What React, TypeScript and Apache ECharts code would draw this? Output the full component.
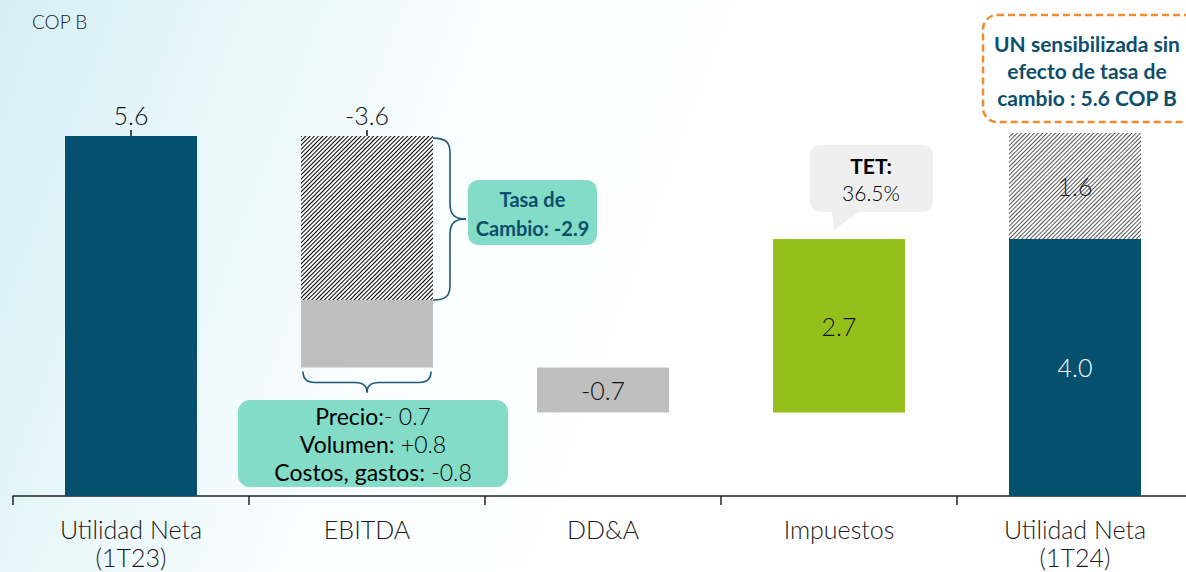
import React, { useEffect, useRef } from 'react';
import * as echarts from 'echarts';

const categories = ['Utilidad Neta\n(1T23)', 'EBITDA', 'DD&A', 'Impuestos', 'Utilidad Neta\n(1T24)'];
const startValue = 5.6;
const ebitdaDelta = -3.6;
const ddaDelta = -0.7;
const taxDelta = 2.7;
const endValue = 4.0;
// EBITDA split as drawn (hatched = exchange-rate effect, gray = operations)
const ebitdaFxDrawn = 2.55;
const ebitdaOpsDrawn = 1.05;
// sensitized top segment on the final bar
const endSensDrawn = 1.65;
const endSensLabel = '1.6';
const fxLabel = 'Cambio: -2.9';
const opsLines = [
  ['Precio:', '- 0.7'],
  ['Volumen:', ' +0.8'],
  ['Costos, gastos:', ' -0.8'],
];
const tetValue = '36.5%';
const noteLines = ['UN sensibilizada sin', 'efecto de tasa de', 'cambio : 5.6 COP B'];

const TEAL = '#06506f';
const GRAY = '#bfbfbf';
const GREEN = '#93c01b';
const MINT = '#82dcc7';
const NAVY = '#1f1a5e';
const DARK = '#0d4f6b';
const FONT = 'Lato, "Noto Sans", sans-serif';

const fmt = (v: number) => (v < 0 ? '-' : '') + Math.abs(v).toFixed(1);

export default function App() {
  const ref = useRef<HTMLDivElement>(null);
  useEffect(() => {
    document.body.style.margin = '0';
    const chart = echarts.init(ref.current!, null, { renderer: 'svg' });
    const ebitdaBase = startValue + ebitdaDelta;
    const ddaBase = ebitdaBase + ddaDelta;
    const taxBase = ddaBase;
    const baseData = [0, ebitdaBase, ddaBase, taxBase, 0];
    const valueFont = { fontSize: 25, fontFamily: FONT, fontWeight: 300 as any };
    const insideLabel = (color: string) => ({
      show: true,
      position: 'inside',
      ...valueFont,
      color,
    });
    const mainData: any[] = [
      {
        value: startValue,
        itemStyle: { color: TEAL },
        label: { show: true, position: 'top', distance: 9, ...valueFont, color: '#111', formatter: fmt(startValue) },
      },
      { value: ebitdaOpsDrawn, itemStyle: { color: GRAY } },
      { value: -ddaDelta, itemStyle: { color: GRAY }, label: { ...insideLabel('#111'), formatter: fmt(ddaDelta) } },
      { value: taxDelta, itemStyle: { color: GREEN }, label: { ...insideLabel('#111'), formatter: fmt(taxDelta) } },
      { value: endValue, itemStyle: { color: TEAL }, label: { ...insideLabel('#fff'), formatter: fmt(endValue) } },
    ];
    const hatchData: any[] = [
      '-',
      {
        value: ebitdaFxDrawn,
        itemStyle: {
          color: '#fff',
          decal: { symbol: 'rect', symbolSize: 1, dashArrayX: [[1, 0]], dashArrayY: [1, 2], rotation: -Math.PI / 4, color: '#000' },
        },
        label: { show: true, position: 'top', distance: 9, ...valueFont, color: '#111', formatter: fmt(ebitdaDelta) },
      },
      '-',
      '-',
      {
        value: endSensDrawn,
        itemStyle: {
          color: '#fff',
          decal: { symbol: 'rect', symbolSize: 1, dashArrayX: [[1, 0]], dashArrayY: [1, 2], rotation: -Math.PI / 4, color: '#555' },
        },
        label: { ...insideLabel('#222'), formatter: endSensLabel },
      },
    ];
    chart.setOption({
      animation: false,
      grid: { left: 13, top: 14, width: 1180, height: 482, containLabel: false },
      xAxis: {
        type: 'category',
        data: categories,
        axisLine: { lineStyle: { color: '#222', width: 1.5 } },
        axisTick: { show: true, length: 9, lineStyle: { color: '#222', width: 1.5 } },
        axisLabel: { fontSize: 25, lineHeight: 28, color: '#1a1a1a', fontFamily: FONT, fontWeight: 300, margin: 19 },
      },
      yAxis: { type: 'value', min: 0, max: 7.5, show: false, splitLine: { show: false } },
      series: [
        { type: 'bar', stack: 'w', data: baseData, barWidth: 132, itemStyle: { color: 'transparent' }, silent: true },
        { type: 'bar', stack: 'w', data: mainData, barWidth: 132 },
        { type: 'bar', stack: 'w', data: hatchData, barWidth: 132 },
      ],
    });

    const px = (x: number, y: number) => chart.convertToPixel({ xAxisIndex: 0, yAxisIndex: 0 }, [x, y]) as number[];
    const p0 = px(0, startValue);
    const p1 = px(1, startValue);
    const half = 66;
    const ebRight = p1[0] + half;
    const fxBottom = px(1, ebitdaBase + ebitdaOpsDrawn)[1];
    const opsBottom = px(1, ebitdaBase)[1];
    const taxTop = px(3, taxBase + taxDelta);
    const braceColor = '#1b5a78';
    const bs = { stroke: braceColor, lineWidth: 1.6, fill: null };

    // vertical brace
    const yT = p1[1] + 2, yB = fxBottom, yM = (yT + yB) / 2;
    const xs = ebRight + 17, xt = ebRight + 33;
    const vBrace = [
      { type: 'bezierCurve', shape: { x1: ebRight, y1: yT, cpx1: ebRight + 14, cpy1: yT, cpx2: xs, cpy2: yT + 5, x2: xs, y2: yT + 15 }, style: bs },
      { type: 'line', shape: { x1: xs, y1: yT + 15, x2: xs, y2: yM - 15 }, style: bs },
      { type: 'bezierCurve', shape: { x1: xs, y1: yM - 15, cpx1: xs, cpy1: yM - 4, cpx2: xs + 5, cpy2: yM, x2: xt, y2: yM }, style: bs },
      { type: 'bezierCurve', shape: { x1: xt, y1: yM, cpx1: xs + 5, cpy1: yM, cpx2: xs, cpy2: yM + 4, x2: xs, y2: yM + 15 }, style: bs },
      { type: 'line', shape: { x1: xs, y1: yM + 15, x2: xs, y2: yB - 15 }, style: bs },
      { type: 'bezierCurve', shape: { x1: xs, y1: yB - 15, cpx1: xs, cpy1: yB - 5, cpx2: ebRight + 14, cpy2: yB, x2: ebRight, y2: yB }, style: bs },
    ];
    // horizontal brace under EBITDA
    const xL = p1[0] - half + 2, xR = p1[0] + half - 2, xM = (xL + xR) / 2;
    const hy0 = opsBottom + 4, hys = hy0 + 11, hyt = hy0 + 21;
    const hBrace = [
      { type: 'bezierCurve', shape: { x1: xL, y1: hy0, cpx1: xL, cpy1: hy0 + 8, cpx2: xL + 4, cpy2: hys, x2: xL + 12, y2: hys }, style: bs },
      { type: 'line', shape: { x1: xL + 12, y1: hys, x2: xM - 12, y2: hys }, style: bs },
      { type: 'bezierCurve', shape: { x1: xM - 12, y1: hys, cpx1: xM - 4, cpy1: hys, cpx2: xM, cpy2: hys + 3, x2: xM, y2: hyt }, style: bs },
      { type: 'bezierCurve', shape: { x1: xM, y1: hyt, cpx1: xM, cpy1: hys + 3, cpx2: xM + 4, cpy2: hys, x2: xM + 12, y2: hys }, style: bs },
      { type: 'line', shape: { x1: xM + 12, y1: hys, x2: xR - 12, y2: hys }, style: bs },
      { type: 'bezierCurve', shape: { x1: xR - 12, y1: hys, cpx1: xR - 4, cpy1: hys, cpx2: xR, cpy2: hys - 3, x2: xR, y2: hy0 }, style: bs },
    ];

    const opsText = opsLines.map((l, i) => ({
      type: 'text',
      x: 373,
      y: 416 + i * 28,
      style: {
        text: `{a|${l[0]}}{b|${l[1]}}`,
        align: 'center',
        verticalAlign: 'middle',
        rich: {
          a: { fontSize: 23, fontFamily: FONT, color: NAVY },
          b: { fontSize: 23, fontFamily: FONT, fontWeight: 300, color: '#3a3a78' },
        },
      },
    }));

    const tetX = taxTop[0];
    chart.setOption({
      graphic: [
        // tick marks on top labels
        { type: 'line', shape: { x1: p0[0], y1: p0[1] - 6, x2: p0[0], y2: p0[1] + 16 }, style: { stroke: '#111', lineWidth: 1.5 } },
        { type: 'line', shape: { x1: p1[0], y1: p1[1] - 6, x2: p1[0], y2: p1[1] + 17 }, style: { stroke: '#111', lineWidth: 1.5 } },
        ...vBrace,
        ...hBrace,
        { type: 'rect', shape: { x: xt + 2, y: 180, width: 129, height: 65, r: 10 }, style: { fill: MINT } },
        {
          type: 'text', x: xt + 2 + 64.5, y: 213,
          style: { text: 'Tasa de\n' + fxLabel, align: 'center', verticalAlign: 'middle', fontSize: 20, lineHeight: 29, fontWeight: 'bold', fontFamily: FONT, fill: DARK },
        },
        { type: 'rect', shape: { x: 238, y: 400, width: 270, height: 87, r: 12 }, style: { fill: MINT } },
        ...opsText,
        // TET bubble
        { type: 'rect', shape: { x: tetX - 29, y: 145, width: 123, height: 67, r: 10 }, style: { fill: '#efefef' } },
        { type: 'polygon', shape: { points: [[tetX - 7, 211], [tetX - 5, 230], [tetX + 21, 211]] }, style: { fill: '#efefef' } },
        {
          type: 'text', x: tetX + 32, y: 179,
          style: {
            text: '{a|TET:}\n{b|' + tetValue + '}', align: 'center', verticalAlign: 'middle',
            rich: {
              a: { fontSize: 21, fontWeight: 'bold', fontFamily: FONT, color: NAVY, lineHeight: 27 },
              b: { fontSize: 21, fontWeight: 300, fontFamily: FONT, color: '#3d3a7e', lineHeight: 27 },
            },
          },
        },
        // note box
        { type: 'rect', shape: { x: 983, y: 15, width: 230, height: 107, r: 14 }, style: { fill: 'rgba(255,255,255,0)', stroke: '#f28a2e', lineWidth: 2.5, lineDash: [7, 4] } },
        {
          type: 'text', x: 1087, y: 70,
          style: { text: noteLines.join('\n'), align: 'center', verticalAlign: 'middle', fontSize: 21, lineHeight: 27, fontWeight: 'bold', fontFamily: FONT, fill: DARK },
        },
        { type: 'text', x: 32, y: 21, style: { text: 'COP B', fontSize: 19, fontWeight: 300, fontFamily: FONT, fill: '#222', verticalAlign: 'middle' } },
      ],
    });
    return () => chart.dispose();
  }, []);
  return (
    <div
      style={{
        width: 1186,
        height: 572,
        overflow: 'hidden',
        position: 'relative',
        background: 'linear-gradient(110deg, #d4eff5 0%, #e9f7fa 18%, #fbfeff 38%, #ffffff 55%)',
      }}
    >
      <div ref={ref} style={{ width: 1210, height: 572 }} />
    </div>
  );
}
